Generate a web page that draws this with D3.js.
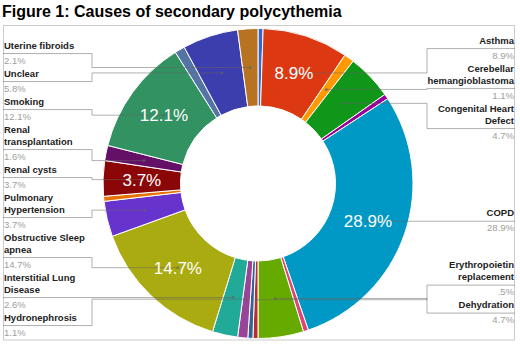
<!DOCTYPE html>
<html>
<head>
<meta charset="utf-8">
<script src="https://cdn.jsdelivr.net/npm/d3@7"></script>
<style>
  body { margin: 0; background: #fff; }
  text { font-family: "Liberation Sans", Arial, sans-serif; }
</style>
</head>
<body>
<svg id="chart" width="520" height="344"></svg>
<script>
var title = "Figure 1: Causes of secondary polycythemia";

// causes in slice order, clockwise from 12 o'clock
// null = a slice too thin to get its own label in the figure
var causes = [null, "Asthma", "Cerebellar hemangioblastoma", "Congenital Heart Defect", null,
  "COPD", null, "Dehydration", "Erythropoietin replacement", null, "Hydronephrosis",
  "Interstitial Lung Disease", "Obstructive Sleep apnea", "Pulmonary Hypertension", null,
  "Renal cysts", "Renal transplantation", "Smoking", null, "Unclear", "Uterine fibroids"];

// patients per cause (n = 190, read back from the printed percentages)
var patients = [1, 17, 2, 9, 1, 55, 1, 9, 1, 1, 2, 5, 28, 7, 1, 7, 3, 23, 2, 11, 4];

var colors = ["#3366cc", "#dc3912", "#ff9900", "#109618", "#990099", "#0099c6", "#dd4477",
  "#66aa00", "#b82e2e", "#316395", "#994499", "#22aa99", "#aaaa11", "#6633cc", "#e67300",
  "#8b0707", "#651067", "#329262", "#5574a6", "#3b3eac", "#b77322"];

var width = 520, height = 344;
var cx = 258, cy = 183.5;
var outerR = 155, innerR = 77.5, anchorR = (innerR + outerR) / 2;
var lineH = 12, labelW = 88;

var svg = d3.select("#chart");

svg.append("rect").attr("width", width).attr("height", height).attr("fill", "#fff");

svg.append("text")
    .attr("x", 2)
    .attr("y", 17)
    .style("font-size", "16px")
    .style("font-weight", "bold")
    .attr("fill", "#000")
    .text(title);

svg.append("rect")
    .attr("x", 3.5)
    .attr("y", 25.5)
    .attr("width", 511)
    .attr("height", 314.5)
    .attr("fill", "none")
    .attr("stroke", "#cccccc");

var total = d3.sum(patients);
var data = patients.map(function (v, i) { return { name: causes[i], value: v, index: i }; });

var pie = d3.pie().sort(null).value(function (d) { return d.value; });
var arcs = pie(data);
var arc = d3.arc().innerRadius(innerR).outerRadius(outerR);
var color = d3.scaleOrdinal().domain(d3.range(colors.length)).range(colors);

var pctText = function (v) {
    var s = d3.format(".1f")(v / total * 100);
    if (s.indexOf("0.") === 0) s = s.slice(1);
    return s + "%";
};

var g = svg.append("g").attr("transform", "translate(" + cx + "," + cy + ")");

g.selectAll("path.slice")
    .data(arcs)
    .enter().append("path")
    .attr("class", "slice")
    .attr("d", arc)
    .attr("fill", function (d) { return color(d.data.index); })
    .attr("stroke", "#fff")
    .attr("stroke-width", 1);

// ---- labelled legend -------------------------------------------------
var measure = svg.append("text").style("font-size", "9.5px").style("font-weight", "bold");

var wrap = function (name, maxW) {
    var words = name.split(" "), lines = [], cur = "";
    words.forEach(function (w) {
        var test = cur ? cur + " " + w : w;
        measure.text(test);
        if (cur && measure.node().getComputedTextLength() > maxW) {
            lines.push(cur);
            cur = w;
        } else {
            cur = test;
        }
    });
    lines.push(cur);
    return lines;
};

var labelled = arcs.filter(function (d) { return d.data.name; });

labelled.forEach(function (d) {
    var mid = (d.startAngle + d.endAngle) / 2;
    d.ax = cx + anchorR * Math.sin(mid);
    d.ay = cy - anchorR * Math.cos(mid);
    d.side = d.startAngle <= Math.PI + 1e-9 ? "right" : "left";
    d.lines = wrap(d.data.name, labelW);
    d.h = lineH * d.lines.length + 16;
    d.want = d.ay - lineH * d.lines.length - 2;
});
measure.remove();

// pool neighbouring labels so that they do not overlap, staying as close as
// possible to where each one would like to be
var layout = function (items, top, bottom) {
    items.sort(function (a, b) { return a.want - b.want; });
    var groups = [];
    items.forEach(function (it) {
        var grp = { items: [it], h: it.h, top: it.want };
        while (groups.length) {
            var prev = groups[groups.length - 1];
            if (prev.top + prev.h <= grp.top) break;
            groups.pop();
            var merged = { items: prev.items.concat(grp.items), h: prev.h + grp.h };
            var off = 0, s = 0;
            merged.items.forEach(function (x) { s += x.want - off; off += x.h; });
            merged.top = s / merged.items.length;
            grp = merged;
        }
        groups.push(grp);
    });
    groups.forEach(function (grp) {
        var off = grp.top;
        grp.items.forEach(function (x) { x.top = off; off += x.h; });
    });
    var prevBottom = top;
    items.forEach(function (x) {
        if (x.top < prevBottom) x.top = prevBottom;
        prevBottom = x.top + x.h;
    });
    var nextTop = bottom;
    for (var i = items.length - 1; i >= 0; i--) {
        var x = items[i];
        if (x.top + x.h > nextTop) x.top = nextTop - x.h;
        nextTop = x.top;
    }
};

layout(labelled.filter(function (d) { return d.side === "right"; }), 28, 341);
layout(labelled.filter(function (d) { return d.side === "left"; }), 28, 341);

var leaders = svg.append("g");
var legend = svg.append("g");

labelled.forEach(function (d) {
    var right = d.side === "right";
    var textX = right ? 514 : 4;
    var edgeX = right ? 515 : 3;
    var elbowX = right ? 427 : 92;
    var n = d.lines.length;
    var uy = d.top + lineH * n + 2;

    var path = "M" + edgeX + "," + uy + "H" + elbowX;
    if (Math.abs(uy - d.ay) > 0.5) path += "V" + d.ay;
    path += "H" + d.ax;

    leaders.append("path")
        .attr("d", path)
        .attr("fill", "none")
        .attr("stroke", "#636363")
        .attr("stroke-opacity", 0.5)
        .attr("stroke-width", 1);

    leaders.append("circle")
        .attr("cx", d.ax)
        .attr("cy", d.ay)
        .attr("r", 1.5)
        .attr("fill", "#636363")
        .attr("fill-opacity", 0.6);

    d.lines.forEach(function (line, k) {
        legend.append("text")
            .attr("x", textX)
            .attr("y", d.top + 9 + lineH * k)
            .attr("text-anchor", right ? "end" : "start")
            .style("font-size", "9.5px")
            .style("font-weight", "bold")
            .attr("fill", "#222")
            .text(line);
    });

    legend.append("text")
        .attr("x", textX)
        .attr("y", d.top + lineH * n + 12)
        .attr("text-anchor", right ? "end" : "start")
        .style("font-size", "9.5px")
        .attr("fill", "#9e9e9e")
        .text(pctText(d.data.value));
});

// ---- percentages inside the slices, only where the text fits ---------
var inner = svg.append("g").attr("transform", "translate(" + cx + "," + cy + ")");
var fontPx = 17, capH = 12, pad = 2;

var fits = function (d, x, y, w) {
    var hw = w / 2 + pad, hh = capH / 2 + pad;
    var corners = [[x - hw, y - hh], [x + hw, y - hh], [x - hw, y + hh], [x + hw, y + hh]];
    return corners.every(function (c) {
        var r = Math.sqrt(c[0] * c[0] + c[1] * c[1]);
        var a = Math.atan2(c[0], -c[1]);
        if (a < 0) a += 2 * Math.PI;
        return r >= innerR && r <= outerR && a >= d.startAngle && a <= d.endAngle;
    });
};

arcs.forEach(function (d) {
    var mid = (d.startAngle + d.endAngle) / 2;
    var x = anchorR * Math.sin(mid), y = -anchorR * Math.cos(mid);
    var t = inner.append("text")
        .attr("x", x)
        .attr("y", y + capH / 2)
        .attr("text-anchor", "middle")
        .style("font-size", fontPx + "px")
        .attr("fill", "#fff")
        .text(pctText(d.data.value));
    if (!fits(d, x, y, t.node().getComputedTextLength())) t.remove();
});
</script>
</body>
</html>
